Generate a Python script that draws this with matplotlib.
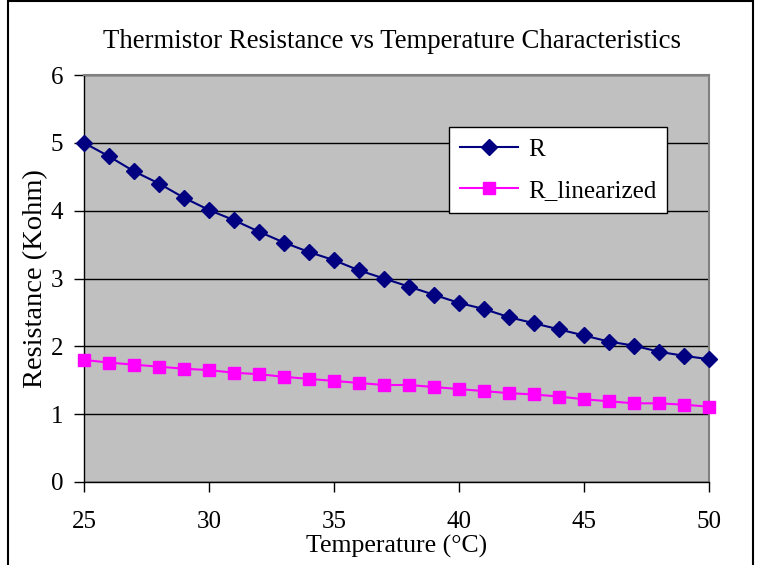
import matplotlib
matplotlib.use("Agg")
import matplotlib.pyplot as plt
from matplotlib.patches import Rectangle

temperature = list(range(25, 51))
R = [5.00, 4.80, 4.58, 4.40, 4.19, 4.01, 3.86, 3.69, 3.53, 3.39, 3.27, 3.12, 3.00,
     2.88, 2.76, 2.64, 2.55, 2.43, 2.34, 2.25, 2.16, 2.07, 2.01, 1.92, 1.86, 1.81]
R_linearized = [1.80, 1.76, 1.73, 1.70, 1.67, 1.65, 1.61, 1.59, 1.55, 1.52, 1.49, 1.46, 1.43,
                1.43, 1.40, 1.37, 1.34, 1.31, 1.29, 1.26, 1.22, 1.19, 1.16, 1.16, 1.14, 1.11]
xticks = [25, 30, 35, 40, 45, 50]
yticks = [0, 1, 2, 3, 4, 5, 6]

plt.rcParams['font.family'] = ['Liberation Serif', 'DejaVu Serif']

fig = plt.figure(figsize=(7.57, 5.65), dpi=100)
ax = fig.add_axes([84/757, 1-482/565, (709-84)/757, (482-75)/565])
ax.set_facecolor('#c0c0c0')

ax.plot(temperature, R, color='#000080', marker='D', markersize=8, lw=1.5,
        label='R', clip_on=False, zorder=3)
ax.plot(temperature, R_linearized, color='#ff00ff', marker='s', markersize=8.5, lw=1.5,
        label='R_linearized', clip_on=False, zorder=3)

ax.set_xlim(25, 50)
ax.set_ylim(0, 6)
ax.set_xticks(xticks)
ax.set_yticks(yticks)
ax.yaxis.grid(True, color='black', lw=1)
ax.set_axisbelow(True)
ax.tick_params(axis='both', direction='out', length=7, width=1, labelsize=18, color='black')
ax.tick_params(axis='x', pad=14)
ax.tick_params(axis='y', pad=8)
for s in ['top', 'right']:
    ax.spines[s].set_color('#808080')
    ax.spines[s].set_linewidth(1.5)
for s in ['left', 'bottom']:
    ax.spines[s].set_color('black')
    ax.spines[s].set_linewidth(1)

ax.set_xlabel('Temperature (°C)', fontsize=18.5, labelpad=1)
ax.set_ylabel('Resistance (Kohm)', fontsize=20.5, labelpad=2)
fig.text(392/757, 1-42/565, 'Thermistor Resistance vs Temperature Characteristics',
         ha='center', va='center', fontsize=19.3)

leg = ax.legend(loc='upper left', bbox_to_anchor=((449-84)/625, (482-127)/407),
                fontsize=18, frameon=True, fancybox=False, edgecolor='black',
                framealpha=1, borderpad=0.45, labelspacing=0.75, handlelength=2.3,
                handletextpad=0.4, borderaxespad=0)
leg.get_frame().set_linewidth(1)

fig.patches.append(Rectangle((8/757, -0.1), (753-8)/757, 1.1 - 1.5/565, transform=fig.transFigure,
                             fill=False, edgecolor='black', lw=1.5))

fig.savefig('out.png', dpi=100)
